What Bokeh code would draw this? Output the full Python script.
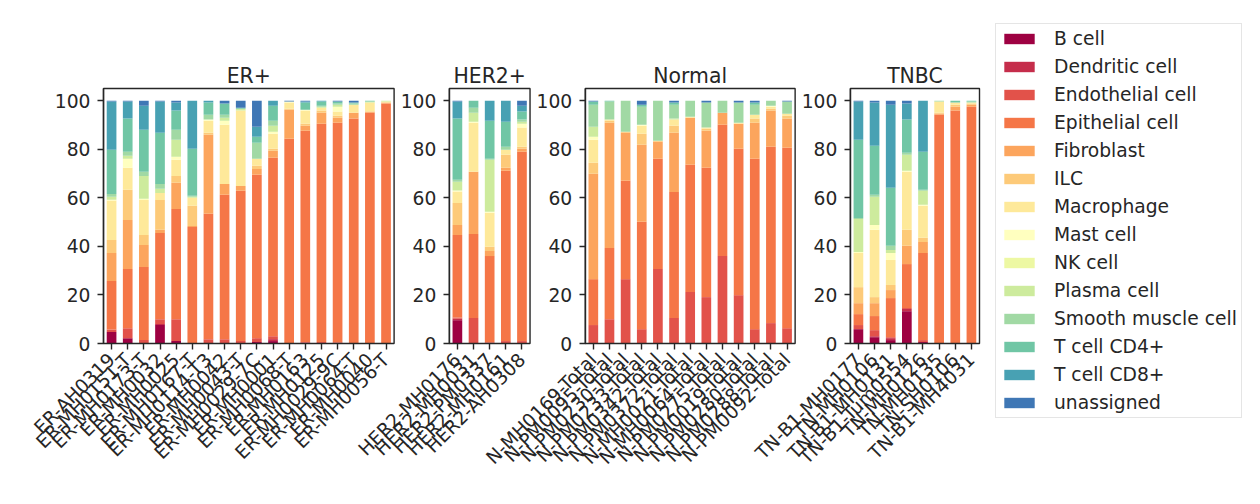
import math
from bokeh.plotting import figure
from bokeh.models import (ColumnDataSource, Range1d, LinearAxis, FixedTicker,
                          Legend, LegendItem)
from bokeh.core.properties import value
from bokeh.embed import file_html
from bokeh.resources import INLINE

# ---------------- data ----------------
group_names = ["ER+", "HER2+", "Normal", "TNBC"]

er_samples = ["ER-AH0319", "ER-MH0151-T", "ER-MH0173-T", "ER-MH0032", "ER-MH0025",
              "ER-MH0167-T", "ER-MH0114-T3", "ER-MH0042", "ER-MH0043-T", "ER-MH0029-7C",
              "ER-MH0001", "ER-MH0068-T", "ER-MH0163", "ER-MH0125", "ER-MH0029-9C",
              "ER-MH0064-T", "ER-MH0040", "ER-MH0056-T"]
her2_samples = ["HER2-MH0176", "HER2-MH0031", "HER2-PM0337", "HER2-MH0161", "HER2-AH0308"]
normal_samples = ["N-MH0169-Total", "N-PM0095-Total", "N-PM0230-Total", "N-PM0233-Total",
                  "N-PM0342-Total", "N-PM0372-Total", "N-MH0021-Total", "N-MH0064-Total",
                  "N-PM0275-Total", "N-PM0019-Total", "N-PM0280-Total", "N-PM0288-Total",
                  "N-PM0092-Total"]
tnbc_samples = ["TN-B1-MH0177", "TN-MH0106", "TN-B1-MH0131", "TN-B1-Tum0554",
                "TN-MH0126", "TN-MH0135", "TN-SH0106", "TN-B1-MH4031"]

cell_types = ["B cell", "Dendritic cell", "Endothelial cell", "Epithelial cell", "Fibroblast",
              "ILC", "Macrophage", "Mast cell", "NK cell", "Plasma cell",
              "Smooth muscle cell", "T cell CD4+", "T cell CD8+", "unassigned"]

# percentages per sample, order: ER+ (18) | HER2+ (5) | Normal (13) | TNBC (8)
b_cell = [4.7, 2.2, 0, 7.6, 1.0, 0, 0, 0, 0, 0.6, 1.0, 0, 0.3, 0, 0, 0, 0, 0,
          9.6, 0, 0, 0, 0,
          0, 0, 0, 0, 0, 0, 0, 0, 0, 0, 0, 0, 0,
          5.9, 2.6, 1.4, 13.3, 0.6, 0, 0, 0]
dendritic_cell = [0, 0, 0, 0.4, 0, 0, 0, 0, 0, 0, 0.8, 0, 0, 0, 0, 0, 0, 0,
                  0.6, 0, 0, 0, 0,
                  0, 0, 0, 0, 0, 0, 0, 0, 0, 0, 0, 0, 0,
                  0, 0.4, 0.8, 0.9, 0, 0, 0, 0]
endothelial_cell = [1.1, 4.1, 1.4, 2.0, 9.0, 0, 1.8, 1.8, 1.0, 1.6, 1.2, 0, 0.3, 0.6, 0.5, 0, 0, 0,
                    0.5, 10.5, 0.5, 1.0, 1.0,
                    7.6, 10.0, 26.5, 5.9, 30.7, 10.5, 21.2, 19.1, 36.0, 19.9, 5.9, 8.4, 6.3,
                    1.7, 2.5, 0.4, 0.4, 0.8, 0, 0, 0]
epithelial_cell = [19.9, 24.4, 30.1, 35.5, 45.4, 48.0, 51.6, 59.4, 61.9, 67.3, 73.5, 84.3, 87.0,
                   89.9, 90.4, 92.6, 95.0, 98.8,
                   34.0, 34.6, 35.5, 70.1, 78.0,
                   18.9, 29.3, 40.5, 44.2, 45.4, 51.9, 52.4, 53.3, 54.1, 60.3, 70.2, 72.6, 74.3,
                   4.5, 5.8, 16.1, 18.1, 35.9, 94.2, 95.9, 97.5]
fibroblast = [11.6, 20.2, 9.1, 1.3, 10.8, 0.4, 32.6, 4.5, 2.0, 2.4, 2.9, 12.0, 2.1, 4.5, 2.1, 2.4, 0.5, 0.4,
              4.1, 25.6, 2.1, 1.3, 1.2,
              43.4, 51.6, 19.8, 31.7, 7.0, 24.4, 19.4, 15.2, 4.9, 10.3, 14.8, 14.9, 12.0,
              4.5, 5.3, 3.3, 7.5, 4.5, 0.4, 1.6, 0.8]
ilc = [5.3, 12.4, 4.1, 12.3, 2.8, 8.3, 0.8, 0, 0, 1.3, 0.8, 0.4, 0.8, 0.9, 0.8, 0, 0, 0,
       9.1, 0, 1.7, 5.3, 0.8,
       4.5, 0.8, 0.4, 4.6, 0.4, 2.9, 0, 0.8, 0, 0, 1.7, 0.8, 1.2,
       6.6, 2.5, 2.1, 6.6, 1.7, 0.4, 0.8, 0.5]
macrophage = [16.3, 9.1, 14.4, 2.9, 6.7, 3.3, 4.9, 24.4, 31.0, 2.9, 6.2, 2.5, 5.4, 1.2, 1.7, 3.3, 3.7, 0.4,
              4.7, 20.2, 14.0, 2.1, 7.9,
              9.5, 0.5, 0, 3.3, 0, 2.5, 0.4, 0.5, 0, 0.4, 1.6, 0.8, 0.8,
              14.1, 27.7, 10.3, 23.9, 13.2, 4.6, 0.9, 0.4]
mast_cell = [0.3, 3.7, 0.5, 0, 1.2, 0, 0.5, 1.6, 0, 0, 0.8, 0.4, 0.4, 0, 2.0, 0, 0, 0,
             0.4, 0.4, 0.4, 0, 1.6,
             1.2, 0, 0, 0.4, 0, 0, 0, 0, 0, 0, 0, 0.4, 0,
             0.4, 2.0, 2.9, 0.4, 0.4, 0, 0, 0]
nk_cell = [0, 0, 0, 0, 0, 0, 0, 0, 0, 0, 0, 0, 0, 0, 0, 0, 0, 0,
           0, 0, 0, 0, 0,
           0, 0, 0, 0, 0, 0, 0, 0, 0, 0, 0, 0, 0,
           0, 0, 0, 0, 0, 0, 0, 0]
plasma_cell = [1.2, 1.2, 9.4, 1.7, 7.0, 0.4, 0, 1.3, 0.8, 0, 2.5, 0, 0, 0.4, 0.8, 0, 0.4, 0.4,
               3.6, 3.7, 21.5, 0, 0.8,
               4.2, 0, 0, 0, 0, 0.4, 0, 0, 0, 0, 0, 0, 0,
               13.6, 11.6, 1.2, 6.6, 5.8, 0, 0, 0]
smooth_muscle_cell = [1.2, 1.7, 1.7, 2.0, 4.1, 0.4, 2.0, 1.2, 0, 6.6, 2.0, 0, 0, 0.4, 0.5, 0.5, 0, 0,
                      0.8, 2.1, 0.4, 1.2, 0.9,
                      9.0, 7.4, 12.8, 7.4, 16.5, 5.7, 6.6, 10.3, 5.0, 8.3, 4.1, 2.1, 5.0,
                      0.4, 0.8, 1.7, 0.8, 0.4, 0.4, 0, 0.4]
t_cell_cd4 = [18.2, 13.6, 17.3, 21.1, 7.9, 19.4, 5.0, 4.6, 0.4, 2.4, 6.2, 0, 2.9, 1.7, 0.8, 0.4, 0.4, 0,
              25.2, 2.9, 15.6, 10.3, 3.3,
              1.3, 0.4, 0, 0.8, 0, 0.9, 0, 0, 0, 0, 0.9, 0, 0,
              32.2, 20.2, 23.9, 13.7, 15.7, 0, 0.8, 0.4]
t_cell_cd8 = [19.8, 7.0, 9.9, 12.8, 3.3, 19.8, 0.8, 0, 0, 4.2, 2.1, 0, 0.4, 0.4, 0, 0, 0, 0,
              7.0, 0, 8.3, 8.7, 2.4,
              0, 0, 0, 0, 0, 0, 0, 0, 0, 0, 0, 0, 0,
              15.7, 17.8, 34.2, 6.6, 21.0, 0, 0, 0]
unassigned = [0.4, 0.4, 2.1, 0.4, 0.8, 0, 0, 1.2, 2.9, 10.7, 0, 0.4, 0.4, 0, 0.4, 0.8, 0, 0,
              0.4, 0, 0, 0, 2.1,
              0.4, 0, 0, 1.7, 0, 0.8, 0, 0.8, 0, 0.8, 0.8, 0, 0.4,
              0.4, 0.8, 1.7, 1.2, 0, 0, 0, 0]

y_ticks = [0, 20, 40, 60, 80, 100]
y_top = 105

# ---------------- layout / styles ----------------
colors = ["#9e0142", "#c52d4b", "#e2524a", "#f57647", "#fca55d", "#fdca79", "#fee99a",
          "#ffffbf", "#edf8a3", "#cdeb9d", "#a1d9a4", "#70c6a5", "#48a1b3", "#3f77b5"]
FONT = "DejaVu Sans"
INK = "#262626"
TICK_FS = "18.7px"
LW = 1.4
GAP = 3.42                       # gap between panels, in bar units
W, H = 1255, 500                 # canvas size
PANEL_L, PANEL_R = 103, 979      # pixel span of all panels
PANEL_T, PANEL_B = 88, 343       # pixel rows of y=105 and y=0

series = [b_cell, dendritic_cell, endothelial_cell, epithelial_cell, fibroblast, ilc,
          macrophage, mast_cell, nk_cell, plasma_cell, smooth_muscle_cell,
          t_cell_cd4, t_cell_cd8, unassigned]
group_samples = [er_samples, her2_samples, normal_samples, tnbc_samples]

xs, names, p_left, p_right, p_center = [], [], [], [], []
off = 0.0
for smp in group_samples:
    p_left.append(off - 0.5)
    p_right.append(off + len(smp) - 0.5)
    p_center.append(off + (len(smp) - 1) / 2.0)
    for i, s in enumerate(smp):
        xs.append(off + i)
        names.append(s)
    off += len(smp) + GAP

ppx = (PANEL_R - PANEL_L) / (p_right[-1] - p_left[0])
ppy = (PANEL_B - PANEL_T) / y_top
x0 = p_left[0] - PANEL_L / ppx
y0 = -(H - PANEL_B) / ppy

data = {"x": xs, "name": names}
for ct, vals in zip(cell_types, series):
    data[ct] = vals
src = ColumnDataSource(data)

p = figure(width=W, height=H, output_backend="svg", toolbar_location=None,
           x_range=Range1d(x0, x0 + W / ppx),
           y_range=Range1d(y0, y0 + H / ppy),
           min_border=0)
p.outline_line_color = None
p.xgrid.visible = False
p.ygrid.visible = False
p.background_fill_color = "white"
p.border_fill_color = "white"

renderers = p.vbar_stack(stackers=cell_types, x="x", width=0.6, fill_color=colors,
                         line_color=None, source=src)

# panel frames (spines)
spine_src = ColumnDataSource({"l": p_left, "r": p_right})
p.quad(left="l", right="r", bottom=0, top=y_top, source=spine_src,
       fill_color=None, line_color=INK, line_width=LW)


def style_y(ax, loc):
    ax.fixed_location = loc
    ax.ticker = FixedTicker(ticks=y_ticks)
    ax.bounds = (0, y_top)
    ax.minor_tick_line_color = None
    ax.major_tick_out = 6
    ax.major_tick_in = 0
    ax.major_tick_line_color = INK
    ax.major_tick_line_width = LW
    ax.axis_line_color = INK
    ax.axis_line_width = LW
    ax.major_label_text_font = FONT
    ax.major_label_text_font_size = TICK_FS
    ax.major_label_text_color = INK
    ax.major_label_standoff = 7


style_y(p.yaxis[0], p_left[0])
for pl in p_left[1:]:
    ax = LinearAxis()
    style_y(ax, pl)
    p.add_layout(ax, "left")

xa = p.xaxis[0]
xa.fixed_location = 0
xa.ticker = FixedTicker(ticks=xs)
xa.major_label_overrides = {x: n for x, n in zip(xs, names)}
xa.major_label_orientation = math.pi / 4
xa.axis_line_color = None
xa.minor_tick_line_color = None
xa.major_tick_out = 6
xa.major_tick_in = 0
xa.major_tick_line_color = INK
xa.major_tick_line_width = LW
xa.major_label_text_font = FONT
xa.major_label_text_font_size = TICK_FS
xa.major_label_text_color = INK
xa.major_label_standoff = 7

# panel titles (text glyphs above each panel frame)
title_src = ColumnDataSource({"cx": p_center, "cy": [y_top] * len(p_center), "g": group_names})
p.text(x="cx", y="cy", text="g", source=title_src, y_offset=-13,
       text_align="center", text_baseline="alphabetic",
       text_font=value(FONT), text_font_size="20.4px", text_color=INK)

legend = Legend(items=[LegendItem(label=ct, renderers=[r]) for ct, r in zip(cell_types, renderers)],
                location=(995, H - 418), margin=0, padding=4, spacing=7,
                glyph_width=38, glyph_height=13, label_standoff=16, label_height=21,
                label_text_font=FONT, label_text_font_size="18.7px", label_text_color=INK,
                border_line_color="#cccccc", border_line_width=1.5,
                background_fill_color="white", background_fill_alpha=1.0)
p.add_layout(legend, "center")

open("out.html", "w").write(file_html(p, INLINE))
